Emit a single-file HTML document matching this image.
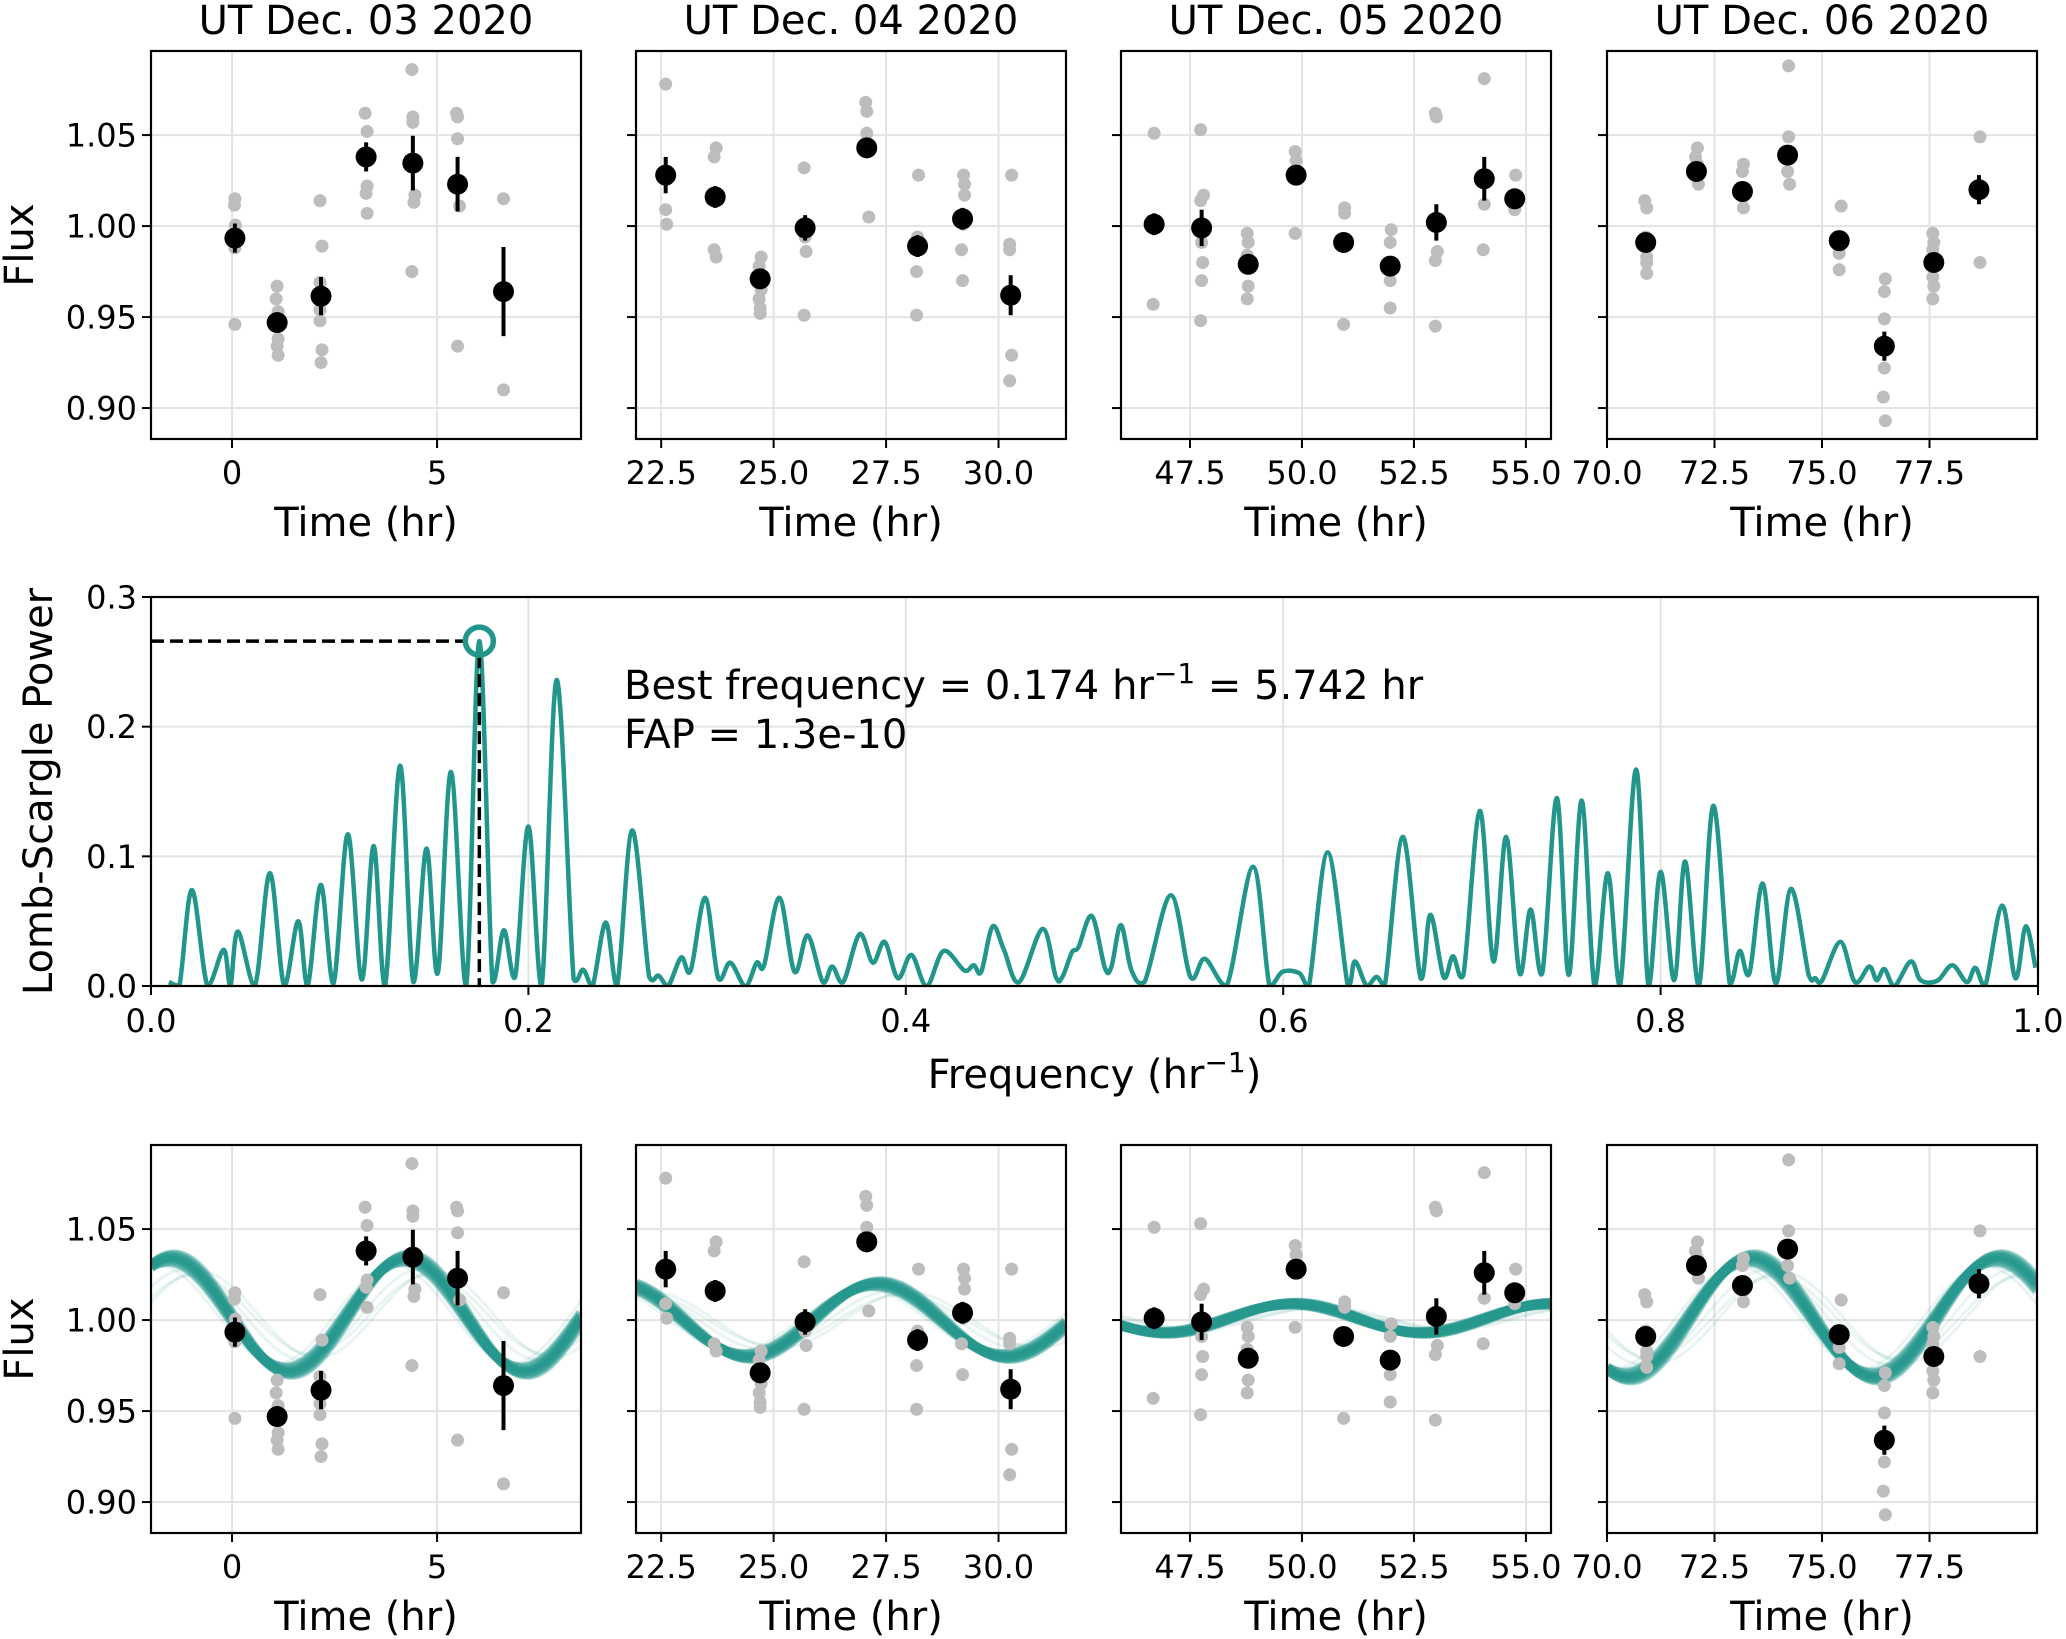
<!DOCTYPE html>
<html><head><meta charset="utf-8">
<style>
html,body{margin:0;padding:0;background:#fff;}
svg{display:block;font-family:"DejaVu Sans","Liberation Sans",sans-serif;}
</style></head>
<body>
<svg id="fig" width="2066" height="1639" viewBox="0 0 2066 1639" xmlns="http://www.w3.org/2000/svg"></svg>
<script>
// ---------------- DATA ----------------
const nightTitles = ["UT Dec. 03 2020","UT Dec. 04 2020","UT Dec. 05 2020","UT Dec. 06 2020"];
const nightXDomains = [[-1.976,8.51],[21.94,31.5],[45.96,55.56],[70,80]];
const nightXTicks = [[0,5],[22.5,25,27.5,30],[47.5,50,52.5,55],[70,72.5,75,77.5]];
const nightXTickLabels = [["0","5"],["22.5","25.0","27.5","30.0"],["47.5","50.0","52.5","55.0"],["70.0","72.5","75.0","77.5"]];
const fluxTicks = [0.90,0.95,1.00,1.05];
const fluxTickLabels = ["0.90","0.95","1.00","1.05"];
const binTimes = [
 [0.07,1.1,2.17,3.27,4.41,5.5,6.62],
 [22.6,23.7,24.7,25.7,27.07,28.2,29.2,30.27],
 [46.7,47.76,48.8,49.87,50.93,51.97,53.0,54.07,54.75],
 [70.9,72.08,73.15,74.2,75.4,76.45,77.6,78.65]];
const binFlux = [
 [0.9934,0.947,0.9615,1.038,1.0346,1.023,0.964],
 [1.028,1.016,0.971,0.999,1.043,0.989,1.004,0.962],
 [1.001,0.999,0.979,1.028,0.991,0.978,1.002,1.026,1.015],
 [0.991,1.030,1.019,1.039,0.992,0.934,0.980,1.020]];
const binErr = [
 [0.008,0.003,0.0105,0.008,0.015,0.015,0.0245],
 [0.010,0.006,0.005,0.007,0.004,0.006,0.006,0.011],
 [0.006,0.010,0.004,0.004,0.0045,0.004,0.010,0.012,0.002],
 [0.005,0.003,0.004,0.0045,0.004,0.008,0.0045,0.008]];
const rawFlux = [
 [[1.015,1.0115,1.0005,0.988,0.946],[0.967,0.960,0.953,0.938,0.934,0.929],[1.014,0.989,0.969,0.954,0.948,0.932,0.925],[1.062,1.052,1.022,1.018,1.007],[1.086,1.060,1.057,1.017,1.013,0.975],[1.062,1.060,1.048,1.011,0.934],[1.015,0.910]],
 [[1.078,1.009,1.001],[1.043,1.038,0.987,0.983],[0.983,0.978,0.965,0.960,0.955,0.952],[1.032,0.994,0.986,0.951],[1.068,1.063,1.051,1.005],[1.028,0.994,0.975,0.951],[1.028,1.023,1.017,1.001,0.987,0.970],[1.028,0.990,0.987,0.929,0.915]],
 [[1.051,1.001,0.957],[1.053,1.017,1.014,0.991,0.980,0.970,0.948],[0.996,0.991,0.984,0.967,0.960],[1.041,1.036,0.996],[1.010,1.007,0.946],[0.998,0.991,0.978,0.970,0.955],[1.062,1.060,0.986,0.981,0.945],[1.081,1.012,0.987],[1.028,1.016,1.009]],
 [[1.014,1.010,0.994,0.983,0.980,0.974],[1.043,1.038,1.034,1.030,1.023],[1.034,1.030,1.016,1.010],[1.088,1.049,1.030,1.023],[1.011,0.985,0.976],[0.971,0.964,0.949,0.922,0.906,0.893],[0.996,0.991,0.987,0.972,0.967,0.960],[1.049,0.980]]];
const fitPeriod = 5.742;
const fitMean = [1.003,1.000,1.001,1.0015];
const fitAmp = [0.031,0.020,0.008,0.0325];
const fitPeak = [4.25,27.3,49.8,73.35];
const drawAmpOffsets = [0,0.0015,-0.0015,0.001,-0.001,0.002,-0.002,0.0005,-0.006,-0.004,-0.009,-0.007];
const drawPhaseOffsets = [0,0.05,-0.05,0.03,-0.03,0.08,-0.08,0.0,0.35,-0.3,0.55,0.7];
const lsFreq = [0.0095,0.015,0.0217,0.030,0.0385,0.042,0.046,0.055,0.063,0.0706,0.078,0.083,0.090,0.0967,0.1043,0.1117,0.118,0.124,0.132,0.139,0.146,0.152,0.159,0.167,0.174,0.181,0.187,0.193,0.200,0.207,0.215,0.224,0.229,0.234,0.241,0.247,0.255,0.264,0.269,0.274,0.281,0.286,0.2937,0.3006,0.307,0.315,0.321,0.3249,0.333,0.341,0.348,0.356,0.361,0.3668,0.3755,0.3825,0.3888,0.3958,0.403,0.411,0.420,0.431,0.436,0.440,0.446,0.452,0.460,0.4725,0.4795,0.483,0.488,0.4915,0.4986,0.5055,0.509,0.514,0.5195,0.5265,0.5404,0.5508,0.5585,0.570,0.584,0.5928,0.5997,0.6084,0.6136,0.6236,0.6343,0.638,0.6443,0.6494,0.654,0.6634,0.6728,0.678,0.685,0.690,0.6955,0.7042,0.7114,0.7182,0.7252,0.7311,0.7373,0.745,0.7513,0.7582,0.765,0.772,0.7785,0.787,0.7936,0.800,0.8072,0.813,0.8203,0.828,0.8366,0.8419,0.8471,0.8541,0.8611,0.8691,0.8785,0.882,0.8855,0.8953,0.903,0.9106,0.9145,0.9186,0.9239,0.9326,0.9378,0.9466,0.9546,0.9623,0.9668,0.972,0.981,0.988,0.9935,0.9987];
const lsPower = [0.003,0,0.074,0,0.028,0,0.042,0,0.087,0,0.050,0,0.078,0.002,0.117,0.005,0.108,0,0.170,0.003,0.106,0.010,0.165,0,0.266,0.003,0.043,0.007,0.123,0,0.236,0.005,0.0125,0,0.049,0,0.120,0.007,0.008,0,0.022,0.012,0.068,0.006,0.018,0,0.018,0.016,0.068,0.011,0.039,0.003,0.015,0.003,0.040,0.018,0.034,0.006,0.024,0,0.027,0.012,0.016,0.011,0.046,0.028,0.003,0.044,0.007,0.007,0.026,0.030,0.054,0.014,0.015,0.047,0.0125,0.003,0.070,0.007,0.021,0,0.092,0,0.011,0.010,0,0.103,0,0.019,0,0.007,0.002,0.115,0.006,0.055,0.007,0.023,0.0085,0.135,0.019,0.115,0.010,0.059,0.010,0.145,0.0085,0.143,0,0.087,0,0.167,0,0.088,0.0045,0.096,0,0.139,0.002,0.027,0.010,0.079,0.002,0.075,0.0085,0.006,0.004,0.034,0.003,0.015,0.0045,0.013,0,0.019,0.0045,0.004,0.016,0.003,0.014,0,0.062,0.006,0.046,0.014];
const lsXTicks = [0,0.2,0.4,0.6,0.8,1.0];
const lsXTickLabels = ["0.0","0.2","0.4","0.6","0.8","1.0"];
const lsYTicks = [0,0.1,0.2,0.3];
const lsYTickLabels = ["0.0","0.1","0.2","0.3"];
const bestFreq = 0.174;
const bestPower = 0.266;

// ---------------- DRAWING ----------------
const NS = "http://www.w3.org/2000/svg";
const svg = document.getElementById("fig");
function mk(tag, attrs, parent){
  const e = document.createElementNS(NS, tag);
  for (const k in attrs) e.setAttribute(k, attrs[k]);
  (parent||svg).appendChild(e);
  return e;
}
const TEAL = "#23968b";
const GRID = "#e3e3e3";
const panelX = [151,636,1121,1607];
const panelW = 430, panelH = 388;
const rowY = [51,1145];
const fluxDomain = [0.883,1.0962];

function scale(d0,d1,r0,r1){ return v => r0 + (v-d0)/(d1-d0)*(r1-r0); }

function drawFluxPanel(row, n){
  const x0 = panelX[n], y0 = rowY[row];
  const xs = scale(nightXDomains[n][0], nightXDomains[n][1], x0, x0+panelW);
  const ys = scale(fluxDomain[0], fluxDomain[1], y0+panelH, y0);
  const g = mk("g", {});
  
  
  const cid = "clip"+row+"_"+n;
  const cp = mk("clipPath",{id:cid},g);
  mk("rect",{x:x0,y:y0,width:panelW,height:panelH},cp);
  fluxTicks.forEach(v=>{ const l=mk("line",{x1:x0,x2:x0+panelW,y1:ys(v),y2:ys(v),stroke:GRID,"stroke-width":2},g);
      });
  nightXTicks[n].forEach(v=>{ const l=mk("line",{x1:xs(v),x2:xs(v),y1:y0,y2:y0+panelH,stroke:GRID,"stroke-width":2},g);
      });
  if(row===1){
    const fg = mk("g",{"clip-path":"url(#"+cid+")"},g);
    
    
    for(let k=drawAmpOffsets.length-1;k>=0;k--){
      let d="";
      const a = fitAmp[n]+drawAmpOffsets[k]*(fitAmp[n]/0.03);
      const pk = fitPeak[n]+drawPhaseOffsets[k];
      for(let i=0;i<=120;i++){
        const t = nightXDomains[n][0]+(nightXDomains[n][1]-nightXDomains[n][0])*i/120;
        const f = fitMean[n]+a*Math.cos(2*Math.PI*(t-pk)/fitPeriod);
        d += (i?"L":"M")+xs(t).toFixed(1)+","+ys(f).toFixed(1);
      }
      const core = k<8;
      const p = mk("path",{d:d,fill:"none",stroke:TEAL,"stroke-width":core?10:3,"stroke-opacity":core?0.4:0.1},fg);
      
      
    }
  }
  binTimes[n].forEach((t,i)=>{
    rawFlux[n][i].forEach(f=>{
      const c=mk("circle",{cx:xs(t)+((f*1000)%3-1),cy:ys(f),r:6.5,fill:"#bdbdbd"},g);
      
      
    });
  });
  binTimes[n].forEach((t,i)=>{
    const f=binFlux[n][i], e=binErr[n][i];
    const l=mk("line",{x1:xs(t),x2:xs(t),y1:ys(f-e),y2:ys(f+e),stroke:"#000","stroke-width":4},g);
    
    
    const c=mk("circle",{cx:xs(t),cy:ys(f),r:10.5,fill:"#000"},g);
    
    
  });
  const fr=mk("rect",{x:x0,y:y0,width:panelW,height:panelH,fill:"none",stroke:"#000","stroke-width":2.2},g);
  
  
  fluxTicks.forEach((v,i)=>{
    mk("line",{x1:x0-9,x2:x0,y1:ys(v),y2:ys(v),stroke:"#000","stroke-width":2},g);
    if(n===0){
      const t=mk("text",{x:x0-14,y:ys(v)+11.5,"font-size":32,"text-anchor":"end"},g);
      t.textContent=fluxTickLabels[i];
      
      
    }
  });
  nightXTicks[n].forEach((v,i)=>{
    mk("line",{x1:xs(v),x2:xs(v),y1:y0+panelH,y2:y0+panelH+9,stroke:"#000","stroke-width":2},g);
    const t=mk("text",{x:xs(v),y:y0+panelH+45,"font-size":32,"text-anchor":"middle"},g);
    t.textContent=nightXTickLabels[n][i];
    
    
  });
  const xl=mk("text",{x:x0+panelW/2,y:y0+panelH+97,"font-size":40,"text-anchor":"middle"},g);
  xl.textContent="Time (hr)";
  
  
  if(n===0){
    const yl=mk("text",{x:0,y:0,"font-size":40,"text-anchor":"middle",transform:"translate(33,"+(y0+panelH/2)+") rotate(-90)"},g);
    yl.textContent="Flux";
    
    
  }
  if(row===0){
    const tt=mk("text",{x:x0+panelW/2,y:34,"font-size":40,"text-anchor":"middle"},g);
    tt.textContent=nightTitles[n];
    
    
  }
}
for(let r=0;r<2;r++) for(let n=0;n<4;n++) drawFluxPanel(r,n);

(function(){
  const x0=151,x1=2038,y0=597,y1=986;
  const xs=scale(0,1,x0,x1), ys=scale(0,0.3,y1,y0);
  const g=mk("g",{});
  
  
  const cp=mk("clipPath",{id:"lsclip"},g);
  mk("rect",{x:x0,y:y0-40,width:x1-x0,height:y1-y0+40},cp);
  lsYTicks.forEach(v=>{ const l=mk("line",{x1:x0,x2:x1,y1:ys(v),y2:ys(v),stroke:GRID,"stroke-width":2},g);
      });
  lsXTicks.forEach(v=>{ const l=mk("line",{x1:xs(v),x2:xs(v),y1:y0,y2:y1,stroke:GRID,"stroke-width":2},g);
      });
  const P=lsFreq.map((f,i)=>[xs(f),ys(lsPower[i])]);
  let d="M"+P[0][0]+","+P[0][1];
  for(let i=0;i<P.length-1;i++){
    const p0=P[Math.max(0,i-1)],p1=P[i],p2=P[i+1],p3=P[Math.min(P.length-1,i+2)];
    const c1=[p1[0]+(p2[0]-p0[0])/6,p1[1]+(p2[1]-p0[1])/6];
    const c2=[p2[0]-(p3[0]-p1[0])/6,p2[1]-(p3[1]-p1[1])/6];
    d+="C"+c1[0].toFixed(1)+","+Math.min(y1,c1[1]).toFixed(1)+" "+c2[0].toFixed(1)+","+Math.min(y1,c2[1]).toFixed(1)+" "+p2[0].toFixed(1)+","+p2[1].toFixed(1);
  }
  const curve=mk("path",{d:d,fill:"none",stroke:TEAL,"stroke-width":4.5,"stroke-linejoin":"round","clip-path":"url(#lsclip)"},g);
  
  
  const h=mk("line",{x1:x0,x2:xs(bestFreq)-14,y1:ys(bestPower),y2:ys(bestPower),stroke:"#000","stroke-width":3.5,"stroke-dasharray":"13,6"},g);
  
  
  const v=mk("line",{x1:xs(bestFreq),x2:xs(bestFreq),y1:ys(bestPower)+14,y2:y1,stroke:"#000","stroke-width":3.5,"stroke-dasharray":"13,6"},g);
  
  
  const m=mk("circle",{cx:xs(bestFreq),cy:ys(bestPower),r:14,fill:"none",stroke:TEAL,"stroke-width":5.5},g);
  
  
  const fr=mk("rect",{x:x0,y:y0,width:x1-x0,height:y1-y0,fill:"none",stroke:"#000","stroke-width":2.2},g);
  
  
  lsYTicks.forEach((v,i)=>{
    mk("line",{x1:x0-9,x2:x0,y1:ys(v),y2:ys(v),stroke:"#000","stroke-width":2},g);
    const t=mk("text",{x:x0-14,y:ys(v)+11.5,"font-size":32,"text-anchor":"end"},g);
    t.textContent=lsYTickLabels[i];
    
    
  });
  lsXTicks.forEach((v,i)=>{
    mk("line",{x1:xs(v),x2:xs(v),y1:y1,y2:y1+9,stroke:"#000","stroke-width":2},g);
    const t=mk("text",{x:xs(v),y:y1+46,"font-size":32,"text-anchor":"middle"},g);
    t.textContent=lsXTickLabels[i];
    
    
  });
  const yl=mk("text",{x:0,y:0,"font-size":40,"text-anchor":"middle",transform:"translate(52,"+((y0+y1)/2)+") rotate(-90)"},g);
  yl.textContent="Lomb-Scargle Power";
  
  
  const xl=mk("text",{x:(x0+x1)/2,y:1088,"font-size":40,"text-anchor":"middle"},g);
  
  
  xl.innerHTML='Frequency (hr<tspan dy="-16" font-size="28">−1</tspan><tspan dy="16">)</tspan>';
  const a1=mk("text",{x:624,y:699,"font-size":40},g);
  
  
  a1.innerHTML='Best frequency = 0.174 hr<tspan dy="-16" font-size="28">−1</tspan><tspan dy="16"> = 5.742 hr</tspan>';
  const a2=mk("text",{x:624,y:748,"font-size":40},g);
  a2.textContent="FAP = 1.3e-10";
  
  
})();
</script>
</body></html>
